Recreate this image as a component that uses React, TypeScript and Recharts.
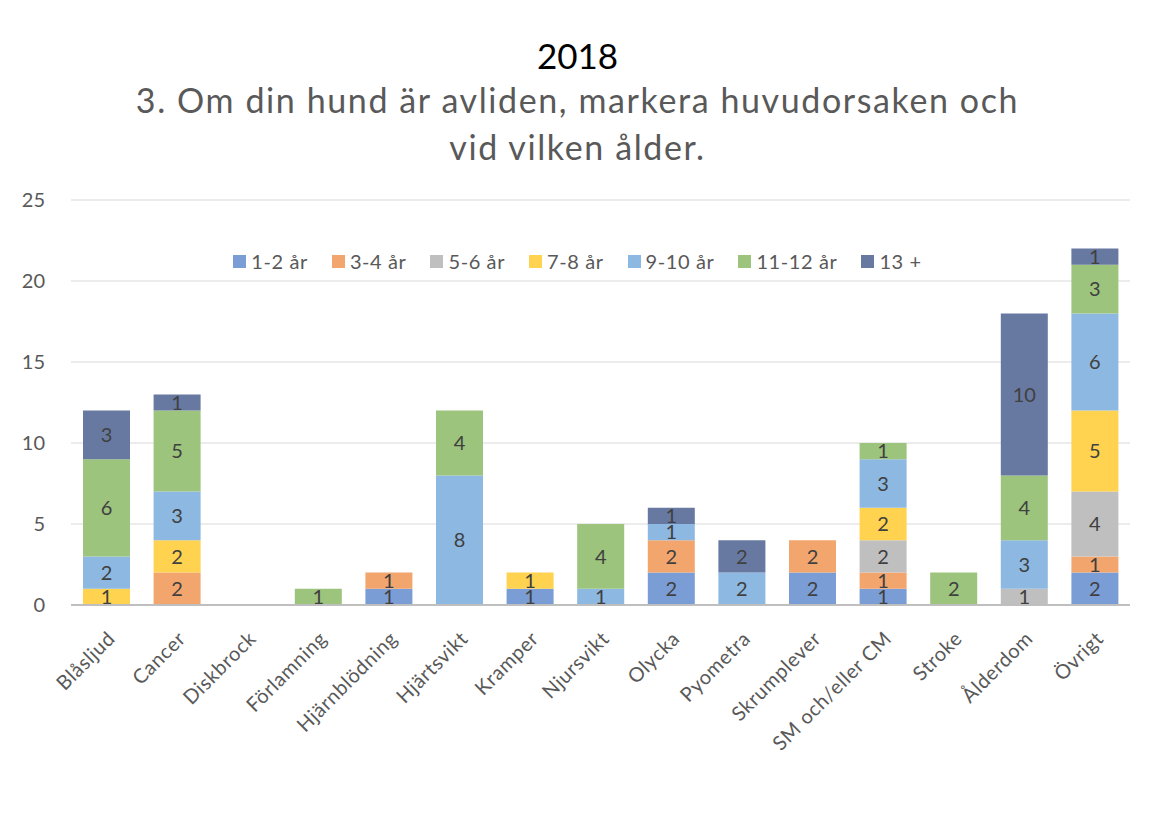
import { BarChart, Bar, XAxis, YAxis, CartesianGrid, LabelList } from 'recharts';

const categories = [
  'Blåsljud', 'Cancer', 'Diskbrock', 'Förlamning', 'Hjärnblödning', 'Hjärtsvikt', 'Kramper',
  'Njursvikt', 'Olycka', 'Pyometra', 'Skrumplever', 'SM och/eller CM', 'Stroke', 'Ålderdom', 'Övrigt',
];

const age1_2 = [0, 0, 0, 0, 1, 0, 1, 0, 2, 0, 2, 1, 0, 0, 2];
const age3_4 = [0, 2, 0, 0, 1, 0, 0, 0, 2, 0, 2, 1, 0, 0, 1];
const age5_6 = [0, 0, 0, 0, 0, 0, 0, 0, 0, 0, 0, 2, 0, 1, 4];
const age7_8 = [1, 2, 0, 0, 0, 0, 1, 0, 0, 0, 0, 2, 0, 0, 5];
const age9_10 = [2, 3, 0, 0, 0, 8, 0, 1, 1, 2, 0, 3, 0, 3, 6];
const age11_12 = [6, 5, 0, 1, 0, 4, 0, 4, 0, 0, 0, 1, 2, 4, 3];
const age13 = [3, 1, 0, 0, 0, 0, 0, 0, 1, 2, 0, 0, 0, 10, 1];

const yTicks = [0, 5, 10, 15, 20, 25];

const series = [
  { key: 'a1', name: '1-2 år', values: age1_2, color: '#7b9dd6' },
  { key: 'a2', name: '3-4 år', values: age3_4, color: '#f3a56e' },
  { key: 'a3', name: '5-6 år', values: age5_6, color: '#bfbfbf' },
  { key: 'a4', name: '7-8 år', values: age7_8, color: '#ffd24f' },
  { key: 'a5', name: '9-10 år', values: age9_10, color: '#8db8e1' },
  { key: 'a6', name: '11-12 år', values: age11_12, color: '#9cc47c' },
  { key: 'a7', name: '13 +', values: age13, color: '#6779a1' },
];

const data = categories.map((name, i) => {
  const row: Record<string, string | number> = { name };
  series.forEach((s) => {
    row[s.key] = s.values[i];
  });
  return row;
});

const FONT = 'Lato, "Open Sans", sans-serif';

// rotated category labels, right end sits just under the bar centre
const XTick = ({ x, y, payload }: any) => (
  <g transform={`translate(${x + 5},${y + 30}) rotate(-45)`}>
    <text x={0} y={0} dy="0.35em" textAnchor="end" fill="#595959" fontSize={20} letterSpacing={0.6} fontFamily={FONT}>
      {payload.value}
    </text>
  </g>
);

export default function App() {
  return (
    <div
      style={{
        position: 'relative',
        width: 1141,
        height: 830,
        boxSizing: 'border-box',
        border: '1px solid #d9d9d9',
        margin: '-1px 0 0 -1px',
        background: '#fff',
      }}
    >
      <div
        style={{
          position: 'absolute',
          top: 26,
          left: 0,
          width: 1139,
          textAlign: 'center',
          fontFamily: FONT,
        }}
      >
        <div style={{ fontSize: 35, color: '#000', lineHeight: '42px' }}>2018</div>
        <div style={{ fontSize: 34, color: '#595959', lineHeight: '47px', letterSpacing: 1.6 }}>
          3. Om din hund är avliden, markera huvudorsaken och
          <br />
          vid vilken ålder.
        </div>
      </div>
      <div style={{ position: 'absolute', top: 0, left: 0 }}>
        <BarChart width={1139} height={821} data={data} margin={{ top: 192, right: 17, left: 0, bottom: 0 }}>
          <CartesianGrid vertical={false} stroke="#e6e6e6" strokeWidth={1.5} />
          <XAxis
            dataKey="name"
            height={224}
            interval={0}
            tickLine={false}
            tickSize={0}
            tickMargin={0}
            axisLine={{ stroke: '#bfbfbf', strokeWidth: 2 }}
            tick={<XTick />}
          />
          <YAxis
            width={63}
            domain={[0, 25]}
            ticks={yTicks}
            axisLine={false}
            tickLine={false}
            tickMargin={20}
            tick={{ fill: '#595959', fontSize: 20, fontFamily: FONT }}
          />
          {series.map((s) => (
            <Bar
              key={s.key}
              dataKey={s.key}
              name={s.name}
              stackId="a"
              fill={s.color}
              barSize={47}
              isAnimationActive={false}
            >
              <LabelList
                dataKey={s.key}
                position="center"
                fill="#404040"
                fontSize={20}
                fontFamily={FONT}
                formatter={(v: any) => (v ? v : '')}
              />
            </Bar>
          ))}
        </BarChart>
      </div>
      <div
        style={{
          position: 'absolute',
          top: 241,
          left: 0,
          width: 1139,
          display: 'flex',
          justifyContent: 'center',
          fontFamily: FONT,
          fontSize: 20,
          letterSpacing: 0.6,
          color: '#595959',
        }}
      >
        {series.map((s, i) => (
          <div
            key={s.key}
            style={{ display: 'flex', alignItems: 'center', marginLeft: i === 0 ? 0 : 24 }}
          >
            <div style={{ width: 13, height: 13, background: s.color, marginRight: 5 }} />
            <span>{s.name}</span>
          </div>
        ))}
      </div>
    </div>
  );
}
